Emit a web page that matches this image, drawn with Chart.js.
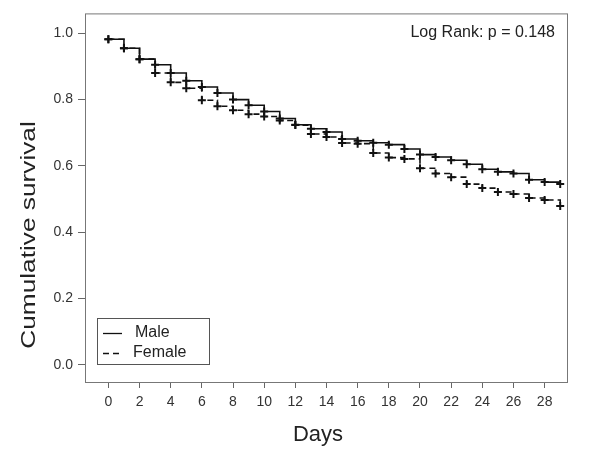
<!DOCTYPE html>
<html>
<head>
<meta charset="utf-8">
<script src="https://cdn.jsdelivr.net/npm/chart.js@4/dist/chart.umd.min.js"></script>
<style>
  html, body { margin: 0; padding: 0; background: #fff; }
  canvas { display: block; }
</style>
</head>
<body>
<canvas id="km" width="600" height="450"></canvas>
<script>
// days since admission (step times)
const days = [0, 1, 2, 3, 4, 5, 6, 7, 8, 9, 10, 11, 12, 13, 14, 15, 16, 17, 18, 19, 20, 21, 22, 23, 24, 25, 26, 27, 28, 29];

// cumulative survival
const maleSurvival = [0.982, 0.955, 0.922, 0.905, 0.880, 0.857, 0.838, 0.820, 0.800, 0.783, 0.764, 0.743, 0.724, 0.712, 0.702, 0.681, 0.676, 0.670, 0.664, 0.651, 0.634, 0.627, 0.617, 0.605, 0.590, 0.582, 0.577, 0.558, 0.551, 0.545];
const femaleSurvival = [0.982, 0.955, 0.922, 0.880, 0.852, 0.834, 0.798, 0.780, 0.768, 0.756, 0.749, 0.737, 0.723, 0.696, 0.687, 0.669, 0.667, 0.639, 0.625, 0.621, 0.593, 0.577, 0.566, 0.545, 0.533, 0.521, 0.515, 0.503, 0.497, 0.479];

const seriesNames = ['Male', 'Female'];
const xTickValues = [0, 2, 4, 6, 8, 10, 12, 14, 16, 18, 20, 22, 24, 26, 28];
const yTickValues = [0, 0.2, 0.4, 0.6, 0.8, 1.0];
const pValueText = 'Log Rank: p = 0.148';

const FONT = '"Liberation Sans", Arial, sans-serif';

// frame, titles, legend box and log-rank note
const decorations = {
  id: 'decorations',
  afterDraw(chart) {
    const ctx = chart.ctx;
    const a = chart.chartArea;
    ctx.save();

    // plot frame
    ctx.strokeStyle = '#777';
    ctx.lineWidth = 1;
    ctx.strokeRect(a.left + 0.5, a.top + 0.5, a.right - a.left - 1, a.bottom - a.top - 1);

    // log rank note
    ctx.fillStyle = '#222';
    ctx.font = '16px ' + FONT;
    ctx.textAlign = 'right';
    ctx.textBaseline = 'middle';
    ctx.fillText(pValueText, a.right - 13, 33);

    // x title
    ctx.font = '22px ' + FONT;
    ctx.textAlign = 'center';
    ctx.fillText('Days', 318, 435);

    // y title (stretched along its length like the source)
    ctx.save();
    ctx.translate(29, 235);
    ctx.rotate(-Math.PI / 2);
    ctx.scale(1.25, 1);
    ctx.font = '21px ' + FONT;
    ctx.fillText('Cumulative survival', 0, 0);
    ctx.restore();

    // legend
    const lx = 97, ly = 318, lw = 112, lh = 46;
    ctx.fillStyle = '#fff';
    ctx.fillRect(lx, ly, lw, lh);
    ctx.strokeStyle = '#555';
    ctx.strokeRect(lx + 0.5, ly + 0.5, lw, lh);
    ctx.fillStyle = '#222';
    ctx.font = '16px ' + FONT;
    ctx.textAlign = 'left';
    const rows = [333, 353];
    chart.data.datasets.forEach((ds, i) => {
      ctx.beginPath();
      ctx.strokeStyle = '#111';
      ctx.lineWidth = 1.3;
      ctx.setLineDash(ds.borderDash || []);
      ctx.moveTo(103, rows[i] + 0.5);
      ctx.lineTo(122, rows[i] + 0.5);
      ctx.stroke();
      ctx.setLineDash([]);
      ctx.fillText(ds.label, i === 0 ? 135 : 133, rows[i]);
    });
    ctx.restore();
  }
};

const makeSeries = (values) => days.map((d, i) => ({ x: d, y: values[i] }));

new Chart(document.getElementById('km'), {
  type: 'scatter',
  data: {
    datasets: [
      {
        label: seriesNames[0],
        data: makeSeries(maleSurvival),
        showLine: true,
        stepped: 'before',
        borderColor: '#111',
        borderWidth: 1.6,
        pointStyle: 'cross',
        pointRadius: 4,
        pointBorderWidth: 2,
        pointBorderColor: '#111',
        backgroundColor: '#111'
      },
      {
        label: seriesNames[1],
        data: makeSeries(femaleSurvival),
        showLine: true,
        stepped: 'before',
        borderColor: '#111',
        borderWidth: 1.6,
        borderDash: [6, 4],
        pointStyle: 'cross',
        pointRadius: 4,
        pointBorderWidth: 2,
        pointBorderColor: '#111',
        backgroundColor: '#111'
      }
    ]
  },
  options: {
    responsive: false,
    animation: false,
    maintainAspectRatio: false,
    devicePixelRatio: 1,
    layout: { padding: { top: 13, right: 32, left: 0, bottom: 0 } },
    plugins: {
      legend: { display: false },
      tooltip: { enabled: false }
    },
    scales: {
      x: {
        type: 'linear',
        min: -1.5,
        max: 29.5,
        afterBuildTicks: (scale) => { scale.ticks = xTickValues.map(v => ({ value: v })); },
        afterFit: (scale) => { scale.height = 67; },
        grid: { drawOnChartArea: false, color: '#666', tickLength: 5 },
        border: { display: false },
        ticks: {
          color: '#333',
          padding: 6,
          maxRotation: 0,
          autoSkip: false,
          font: { family: FONT, size: 14 },
          callback: (v) => String(v)
        }
      },
      y: {
        type: 'linear',
        min: -0.055,
        max: 1.06,
        afterBuildTicks: (scale) => { scale.ticks = yTickValues.map(v => ({ value: v })); },
        afterFit: (scale) => { scale.width = 85; },
        grid: { drawOnChartArea: false, color: '#666', tickLength: 7 },
        border: { display: false },
        ticks: {
          color: '#333',
          padding: 5,
          autoSkip: false,
          font: { family: FONT, size: 14 },
          callback: (v) => Number(v).toFixed(1)
        }
      }
    }
  },
  plugins: [decorations]
});
</script>
</body>
</html>
